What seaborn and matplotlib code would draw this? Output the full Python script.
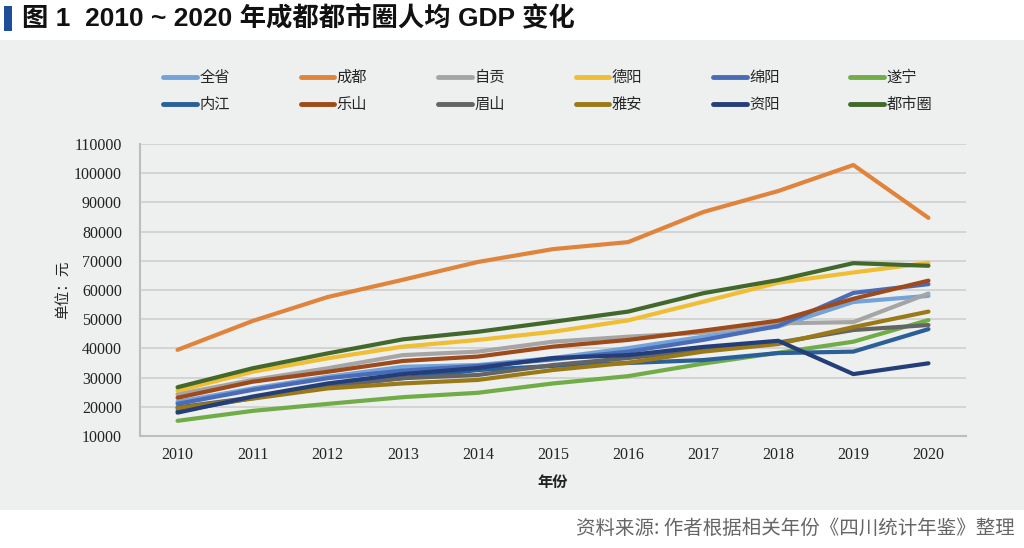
import matplotlib
matplotlib.use("Agg")
import matplotlib.pyplot as plt
from matplotlib.patches import Rectangle
from matplotlib.lines import Line2D
import seaborn as sns
import pandas as pd

years = list(range(2010, 2021))
series_names = ["全省", "成都", "自贡", "德阳", "绵阳", "遂宁",
                "内江", "乐山", "眉山", "雅安", "资阳", "都市圈"]

quansheng = [21700, 26300, 30300, 33700, 34300, 36700, 40100, 44000, 47500, 55900, 58000]
chengdu   = [39500, 49400, 57600, 63500, 69600, 74000, 76400, 86700, 93900, 102800, 84700]
zigong    = [24300, 29200, 33200, 37700, 38900, 42300, 44000, 45400, 48600, 49000, 58800]
deyang    = [25500, 32000, 36600, 40600, 42900, 45700, 49600, 56000, 62500, 66000, 69300]
mianyang  = [21000, 25800, 29800, 32400, 34000, 36200, 38900, 42900, 47700, 59000, 62000]
suining   = [15200, 18600, 21000, 23300, 24800, 28000, 30500, 34800, 38500, 42300, 49700]
neijiang  = [18500, 23000, 27200, 29800, 32600, 34000, 35000, 36000, 38400, 38900, 46600]
leshan    = [23100, 28600, 32000, 35700, 37200, 40600, 42900, 46100, 49500, 57000, 63200]
meishan   = [19800, 23200, 27100, 29800, 30900, 34300, 36700, 39400, 42000, 46300, 48000]
yaan      = [19500, 22800, 26300, 28000, 29200, 32600, 35100, 38900, 41500, 47300, 52600]
ziyang    = [18000, 23500, 28000, 31200, 33300, 36700, 37700, 40500, 42600, 31200, 34900]
dushiquan = [26700, 33200, 38300, 43100, 45700, 49100, 52600, 58900, 63400, 69200, 68300]

values = [quansheng, chengdu, zigong, deyang, mianyang, suining,
          neijiang, leshan, meishan, yaan, ziyang, dushiquan]

colors = ["#74a3d8", "#e0843c", "#a5a5a5", "#f0be33", "#4a6cb8", "#70ad47",
          "#2b5f9a", "#9e4a1a", "#646464", "#9a7a17", "#233e79", "#43682b"]

rows = []
for name, vals in zip(series_names, values):
    for y, v in zip(years, vals):
        rows.append({"年份": y, "值": v, "地区": name})
df = pd.DataFrame(rows)

sns.set_theme(style="white")
plt.rcParams["font.family"] = ["Noto Sans CJK SC", "DejaVu Sans"]

bg = "#eeefef"
fig = plt.figure(figsize=(10.24, 5.48), dpi=100)
fig.patch.set_facecolor("white")
fig.patches.append(Rectangle((0, 1 - 510 / 548), 1, (510 - 40) / 548,
                             transform=fig.transFigure, facecolor=bg,
                             edgecolor="none", zorder=-10))

ax = fig.add_axes([140 / 1024, 1 - 436 / 548, (966 - 140) / 1024, 292 / 548])
ax.set_zorder(5)
ax.set_facecolor(bg)

sns.lineplot(data=df, x="年份", y="值", hue="地区", hue_order=series_names,
             palette=dict(zip(series_names, colors)), linewidth=3,
             ax=ax, legend=False)

ax.set_xlim(2009.5, 2020.5)
ax.set_ylim(10000, 110000)
ax.set_xticks(years)
ax.set_yticks(range(10000, 110001, 10000))
ax.yaxis.grid(True, color="#d2d2d2", linewidth=1.3)
ax.xaxis.grid(False)
ax.set_axisbelow(True)
for s in ["top", "right"]:
    ax.spines[s].set_visible(False)
for s in ["left", "bottom"]:
    ax.spines[s].set_color("#bdbdbd")
    ax.spines[s].set_linewidth(1.5)
ax.tick_params(axis="both", length=0, labelsize=11.5, colors="#222222")
ax.tick_params(axis="y", pad=13)
ax.tick_params(axis="x", pad=8)
for lab in ax.get_xticklabels() + ax.get_yticklabels():
    lab.set_family("Liberation Serif")

ax.set_xlabel("年份", fontsize=11, fontweight="bold", color="#222222", labelpad=8)
ax.set_ylabel("单位：元", fontsize=10.5, color="#222222", labelpad=3)

# legend
handles = [Line2D([0], [0], color=c, linewidth=3.5) for c in colors]
order = []
for i in range(6):
    order += [i, i + 6]
leg = fig.legend([handles[i] for i in order], [series_names[i] for i in order],
                 ncol=6, loc="upper left", bbox_to_anchor=(0.146, 0.899),
                 frameon=False, fontsize=11, handlelength=2.2, handletextpad=0.15,
                 columnspacing=4.65, labelspacing=0.65)
leg.set_zorder(6)

# title
fig.patches.append(Rectangle((4 / 1024, 1 - 31 / 548), 8 / 1024, 25 / 548,
                             transform=fig.transFigure, facecolor="#1f4e99",
                             edgecolor="none"))
fig.text(22 / 1024, 1 - 19 / 548, "图 1  2010 ~ 2020 年成都都市圈人均 GDP 变化",
         fontsize=19, fontweight="bold", va="center", ha="left",
         family=["Liberation Sans", "Noto Sans CJK SC"], color="#111111")

# source
fig.text(1015 / 1024, 1 - 528 / 548, "资料来源: 作者根据相关年份《四川统计年鉴》整理",
         fontsize=14, va="center", ha="right", color="#666666")

fig.savefig("out.png", dpi=100, facecolor=fig.get_facecolor())
